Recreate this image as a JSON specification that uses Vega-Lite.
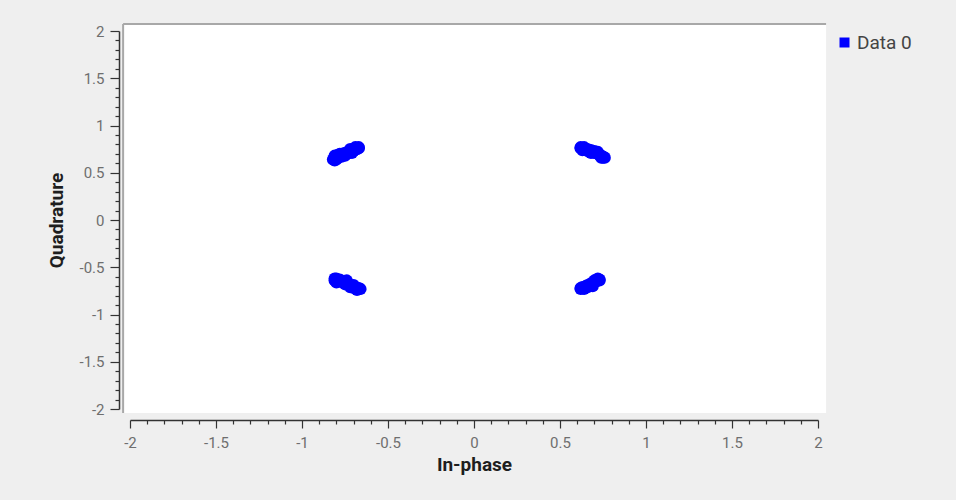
{
  "$schema": "https://vega.github.io/schema/vega-lite/v6.json",
  "autosize": {"type": "none"},
  "width": 688,
  "height": 378,
  "padding": {"left": 130, "top": 31, "right": 138, "bottom": 91},
  "background": "#efefef",
  "data": {"values": [{}]},
  "config": {
    "view": {"stroke": null},
    "font": "Roboto",
    "axis": {
      "labelFont": "Roboto",
      "labelFontSize": 15,
      "labelColor": "#6e6e6e",
      "titleFont": "Roboto",
      "titleFontSize": 19,
      "titleFontWeight": "bold",
      "titleColor": "#1e1e1e",
      "domainColor": "#333333",
      "domainWidth": 1.5,
      "tickColor": "#333333",
      "tickWidth": 1.2,
      "grid": false,
      "offset": 11,
      "tickCount": 100,
      "labelOverlap": false,
      "labelFlush": false
    },
    "axisX": {
      "labelExpr": "abs(datum.value*2 - round(datum.value*2)) < 0.001 ? '' + round(datum.value*10)/10 : ''",
      "tickSize": {"condition": {"test": "abs(datum.value*2 - round(datum.value*2)) < 0.001", "value": 8}, "value": 4},
      "labelPadding": 7,
      "titlePadding": 5
    },
    "axisY": {
      "labelExpr": "abs(datum.value*2 - round(datum.value*2)) < 0.001 ? '' + round(datum.value*10)/10 : ''",
      "tickSize": {"condition": {"test": "abs(datum.value*2 - round(datum.value*2)) < 0.001", "value": 9}, "value": 4},
      "labelPadding": 6,
      "titlePadding": 13
    }
  },
  "datasets": {
    "pts": [
      {"I": -0.82, "Q": 0.64}, {"I": -0.81, "Q": 0.66}, {"I": -0.80, "Q": 0.64}, {"I": -0.80, "Q": 0.67}, {"I": -0.79, "Q": 0.66},
      {"I": -0.78, "Q": 0.68}, {"I": -0.77, "Q": 0.67}, {"I": -0.77, "Q": 0.70}, {"I": -0.76, "Q": 0.69}, {"I": -0.75, "Q": 0.71},
      {"I": -0.74, "Q": 0.70}, {"I": -0.73, "Q": 0.72}, {"I": -0.72, "Q": 0.73}, {"I": -0.71, "Q": 0.74}, {"I": -0.70, "Q": 0.73},
      {"I": -0.69, "Q": 0.76}, {"I": -0.68, "Q": 0.75}, {"I": -0.67, "Q": 0.77}, {"I": -0.67, "Q": 0.76}, {"I": -0.78, "Q": 0.70},
      {"I": -0.81, "Q": 0.63}, {"I": -0.81, "Q": 0.68}, {"I": -0.79, "Q": 0.69}, {"I": -0.75, "Q": 0.68}, {"I": -0.71, "Q": 0.71},
      {"I": -0.72, "Q": 0.75}, {"I": -0.69, "Q": 0.77},
      {"I": 0.62, "Q": 0.76}, {"I": 0.62, "Q": 0.77}, {"I": 0.63, "Q": 0.75}, {"I": 0.64, "Q": 0.76}, {"I": 0.65, "Q": 0.74},
      {"I": 0.66, "Q": 0.75}, {"I": 0.67, "Q": 0.73}, {"I": 0.68, "Q": 0.74}, {"I": 0.69, "Q": 0.72}, {"I": 0.70, "Q": 0.71},
      {"I": 0.71, "Q": 0.72}, {"I": 0.72, "Q": 0.70}, {"I": 0.73, "Q": 0.69}, {"I": 0.74, "Q": 0.68}, {"I": 0.75, "Q": 0.67},
      {"I": 0.75, "Q": 0.66}, {"I": 0.76, "Q": 0.66}, {"I": 0.70, "Q": 0.73}, {"I": 0.66, "Q": 0.73},
      {"I": 0.63, "Q": 0.74}, {"I": 0.64, "Q": 0.77}, {"I": 0.68, "Q": 0.71}, {"I": 0.72, "Q": 0.72}, {"I": 0.74, "Q": 0.66},
      {"I": -0.81, "Q": -0.62}, {"I": -0.81, "Q": -0.64}, {"I": -0.80, "Q": -0.62}, {"I": -0.79, "Q": -0.64}, {"I": -0.78, "Q": -0.63},
      {"I": -0.77, "Q": -0.65}, {"I": -0.76, "Q": -0.66}, {"I": -0.75, "Q": -0.65}, {"I": -0.74, "Q": -0.67}, {"I": -0.73, "Q": -0.68},
      {"I": -0.72, "Q": -0.69}, {"I": -0.71, "Q": -0.70}, {"I": -0.70, "Q": -0.69}, {"I": -0.69, "Q": -0.71}, {"I": -0.68, "Q": -0.72},
      {"I": -0.67, "Q": -0.73}, {"I": -0.67, "Q": -0.72}, {"I": -0.66, "Q": -0.73}, {"I": -0.72, "Q": -0.71}, {"I": -0.78, "Q": -0.65},
      {"I": -0.80, "Q": -0.66}, {"I": -0.75, "Q": -0.68}, {"I": -0.70, "Q": -0.72}, {"I": -0.68, "Q": -0.74}, {"I": -0.74, "Q": -0.64},
      {"I": 0.62, "Q": -0.73}, {"I": 0.62, "Q": -0.72}, {"I": 0.63, "Q": -0.72}, {"I": 0.63, "Q": -0.71}, {"I": 0.64, "Q": -0.72},
      {"I": 0.65, "Q": -0.70}, {"I": 0.66, "Q": -0.69}, {"I": 0.67, "Q": -0.70}, {"I": 0.68, "Q": -0.67}, {"I": 0.69, "Q": -0.68},
      {"I": 0.70, "Q": -0.66}, {"I": 0.71, "Q": -0.65}, {"I": 0.72, "Q": -0.64}, {"I": 0.72, "Q": -0.63}, {"I": 0.73, "Q": -0.63},
      {"I": 0.73, "Q": -0.64}, {"I": 0.66, "Q": -0.71}, {"I": 0.64, "Q": -0.73}, {"I": 0.69, "Q": -0.70}, {"I": 0.70, "Q": -0.64},
      {"I": 0.72, "Q": -0.62}
    ]
  },
  "layer": [
    {
      "mark": {"type": "rect", "fill": "#ffffff", "clip": false},
      "encoding": {
        "x": {"datum": -2.04, "type": "quantitative", "scale": {"domain": [-2, 2], "nice": false, "zero": false}, "title": "In-phase",
          "axis": {"tickCount": 100, "values": [-2, -1.9, -1.8, -1.7, -1.6, -1.5, -1.4, -1.3, -1.2, -1.1, -1, -0.9, -0.8, -0.7, -0.6, -0.5, -0.4, -0.3, -0.2, -0.1, 0, 0.1, 0.2, 0.3, 0.4, 0.5, 0.6, 0.7, 0.8, 0.9, 1, 1.1, 1.2, 1.3, 1.4, 1.5, 1.6, 1.7, 1.8, 1.9, 2]}},
        "x2": {"datum": 2.047},
        "y": {"datum": 2.074, "type": "quantitative", "scale": {"domain": [-2, 2], "nice": false, "zero": false}, "title": "Quadrature",
          "axis": {"tickCount": 100, "values": [-2, -1.9, -1.8, -1.7, -1.6, -1.5, -1.4, -1.3, -1.2, -1.1, -1, -0.9, -0.8, -0.7, -0.6, -0.5, -0.4, -0.3, -0.2, -0.1, 0, 0.1, 0.2, 0.3, 0.4, 0.5, 0.6, 0.7, 0.8, 0.9, 1, 1.1, 1.2, 1.3, 1.4, 1.5, 1.6, 1.7, 1.8, 1.9, 2]}},
        "y2": {"datum": -2.043}
      }
    },
    {
      "mark": {"type": "rule", "stroke": "#a8a8a8", "strokeWidth": 2},
      "encoding": {
        "x": {"datum": -2.04, "type": "quantitative", "title": "In-phase"},
        "x2": {"datum": 2.047},
        "y": {"datum": 2.074, "type": "quantitative", "title": "Quadrature"}
      }
    },
    {
      "mark": {"type": "rule", "stroke": "#a8a8a8", "strokeWidth": 2},
      "encoding": {
        "x": {"datum": -2.04, "type": "quantitative", "title": "In-phase"},
        "y": {"datum": -2.043, "type": "quantitative", "title": "Quadrature"},
        "y2": {"datum": 2.074}
      }
    },
    {
      "data": {"name": "pts"},
      "mark": {"type": "point", "shape": "circle", "filled": true, "opacity": 1, "size": 150},
      "encoding": {
        "x": {"field": "I", "type": "quantitative", "title": "In-phase",
          "axis": {"tickCount": 100, "values": [-2, -1.9, -1.8, -1.7, -1.6, -1.5, -1.4, -1.3, -1.2, -1.1, -1, -0.9, -0.8, -0.7, -0.6, -0.5, -0.4, -0.3, -0.2, -0.1, 0, 0.1, 0.2, 0.3, 0.4, 0.5, 0.6, 0.7, 0.8, 0.9, 1, 1.1, 1.2, 1.3, 1.4, 1.5, 1.6, 1.7, 1.8, 1.9, 2]}},
        "y": {"field": "Q", "type": "quantitative", "title": "Quadrature",
          "axis": {"tickCount": 100, "values": [-2, -1.9, -1.8, -1.7, -1.6, -1.5, -1.4, -1.3, -1.2, -1.1, -1, -0.9, -0.8, -0.7, -0.6, -0.5, -0.4, -0.3, -0.2, -0.1, 0, 0.1, 0.2, 0.3, 0.4, 0.5, 0.6, 0.7, 0.8, 0.9, 1, 1.1, 1.2, 1.3, 1.4, 1.5, 1.6, 1.7, 1.8, 1.9, 2]}},
        "color": {
          "datum": "Data 0",
          "type": "nominal",
          "scale": {"range": ["#0000ff"]},
          "legend": {
            "title": null,
            "orient": "right",
            "offset": 15,
            "padding": 2,
            "symbolType": "square",
            "symbolSize": 100,
            "labelFont": "Roboto",
            "labelFontSize": 19,
            "labelColor": "#444444",
            "labelOffset": 3
          }
        }
      }
    }
  ]
}
